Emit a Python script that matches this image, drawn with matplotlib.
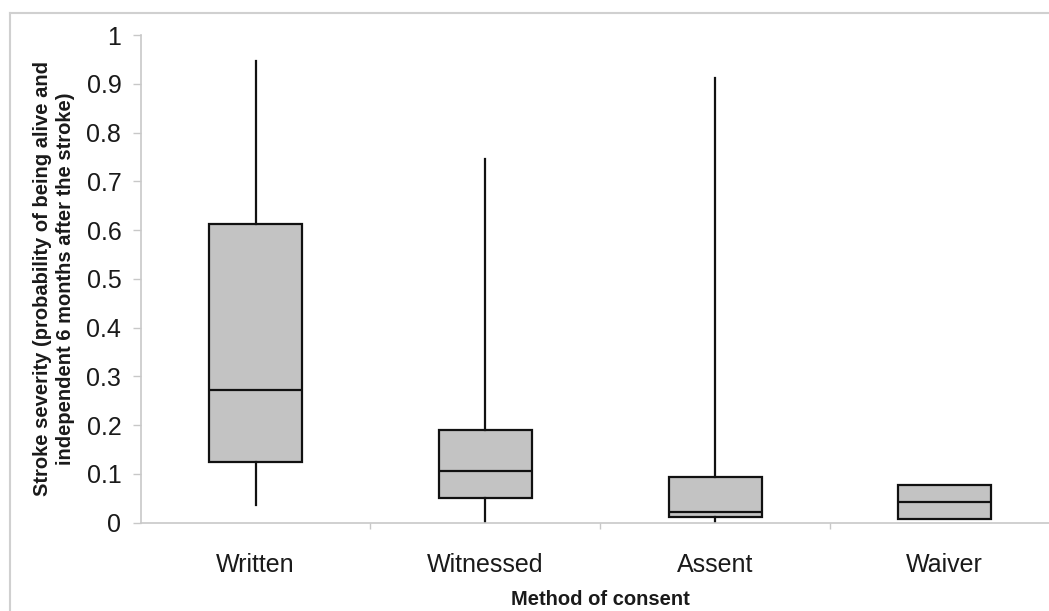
import matplotlib.pyplot as plt
from matplotlib.lines import Line2D

# Values
methods = ["Written", "Witnessed", "Assent", "Waiver"]
whisker_low = [0.037, 0.0, 0.0, 0.008]
q1 = [0.124, 0.051, 0.011, 0.008]
median = [0.272, 0.106, 0.022, 0.043]
q3 = [0.612, 0.191, 0.094, 0.077]
whisker_high = [0.946, 0.746, 0.912, 0.077]

y_ticks = [0, 0.1, 0.2, 0.3, 0.4, 0.5, 0.6, 0.7, 0.8, 0.9, 1]
y_tick_labels = ["0", "0.1", "0.2", "0.3", "0.4", "0.5", "0.6", "0.7", "0.8", "0.9", "1"]

plt.rcParams['font.family'] = ['Liberation Sans', 'DejaVu Sans']

fig = plt.figure(figsize=(10.49, 6.11), dpi=100)
ax = fig.add_axes([140.7 / 1049, 88.3 / 611, 919.0 / 1049, 487.7 / 611])

stats = []
for i, name in enumerate(methods):
    stats.append({
        "label": name,
        "whislo": whisker_low[i],
        "q1": q1[i],
        "med": median[i],
        "q3": q3[i],
        "whishi": whisker_high[i],
        "fliers": [],
    })

ax.bxp(stats, positions=range(1, len(methods) + 1), widths=0.405,
       showcaps=False, showfliers=False, patch_artist=True,
       boxprops=dict(facecolor="#c3c3c3", edgecolor="#111111", linewidth=1.6),
       medianprops=dict(color="#111111", linewidth=1.6),
       whiskerprops=dict(color="#111111", linewidth=1.6))

ax.set_xlim(0.5, len(methods) + 0.5)
ax.set_ylim(0, 1)

ax.set_yticks(y_ticks)
ax.set_yticklabels(y_tick_labels)
ax.set_xticks(range(1, len(methods) + 1))
ax.set_xticklabels(methods)
ax.set_xticks([1.5, 2.5, 3.5], minor=True)

ax.tick_params(axis="y", direction="out", length=6, width=1, color="#c8c8c8",
               labelsize=18, labelcolor="#1a1a1a", pad=8)
ax.tick_params(axis="x", which="major", length=0, labelsize=18,
               labelcolor="#1a1a1a", pad=22)
ax.tick_params(axis="x", which="minor", direction="out", length=4, width=1,
               color="#c8c8c8")

for side in ["top", "right"]:
    ax.spines[side].set_visible(False)
for side in ["left", "bottom"]:
    ax.spines[side].set_color("#c8c8c8")
    ax.spines[side].set_linewidth(1.2)

ax.set_ylabel("Stroke severity (probability of being alive and\nindependent 6 months after the stroke)",
              fontsize=14.5, fontweight="bold", color="#1a1a1a",
              linespacing=1.25)
ax.yaxis.set_label_coords(-0.0715, 0.5)
ax.set_xlabel("Method of consent", fontsize=14.5, fontweight="bold",
              color="#1a1a1a")
ax.xaxis.set_label_coords(0.5, -0.138)

# light outer frame (left and top edges)
fig.add_artist(Line2D([9.5 / 1049, 9.5 / 1049], [0, 1 - 13 / 611],
                      transform=fig.transFigure, color="#d0d0d0", linewidth=1.5))
fig.add_artist(Line2D([9.5 / 1049, 1], [1 - 13 / 611, 1 - 13 / 611],
                      transform=fig.transFigure, color="#d0d0d0", linewidth=1.5))

fig.savefig("out.png", dpi=100)
